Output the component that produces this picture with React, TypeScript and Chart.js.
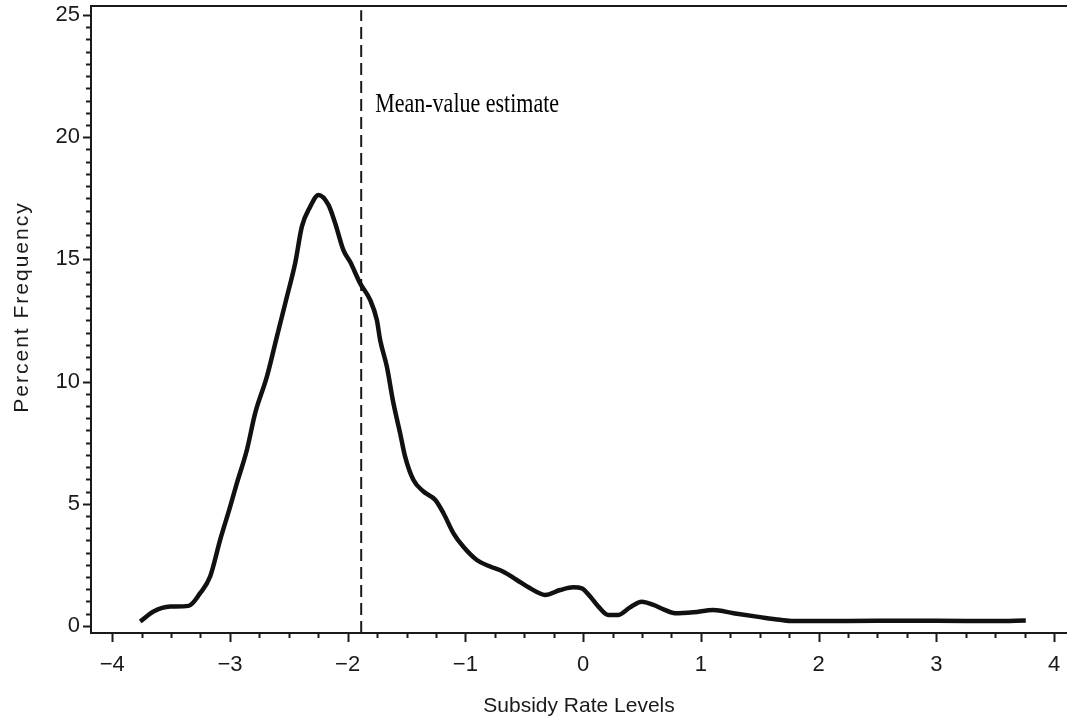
import React, { useEffect, useRef } from "react";
import { Chart, registerables } from "chart.js";

Chart.register(...registerables);

// Density curve
const densityX = [
  -3.762, -3.649, -3.507, -3.352, -3.253, -3.168, -3.083, -2.998, -2.941, -2.856,
  -2.786, -2.686, -2.601, -2.516, -2.446, -2.389, -2.318, -2.248, -2.163, -2.106,
  -2.036, -1.979, -1.894, -1.809, -1.752, -1.724, -1.667, -1.611, -1.554, -1.512,
  -1.441, -1.356, -1.257, -1.186, -1.101, -1.017, -0.903, -0.79, -0.677, -0.563,
  -0.45, -0.323, -0.195, -0.082, -0.011, 0.06, 0.13, 0.215, 0.3, 0.399,
  0.498, 0.597, 0.682, 0.781, 0.937, 1.107, 1.277, 1.503, 1.673, 1.786,
  2.0, 2.5, 3.0, 3.5, 3.76,
];
const densityY = [
  0.18, 0.59, 0.79, 0.82, 1.34, 2.02, 3.52, 4.88, 5.84, 7.2,
  8.7, 10.2, 11.84, 13.47, 14.84, 16.34, 17.16, 17.64, 17.23, 16.48,
  15.38, 14.9, 14.02, 13.34, 12.52, 11.7, 10.61, 9.11, 7.88, 6.93,
  5.97, 5.5, 5.16, 4.61, 3.79, 3.24, 2.7, 2.43, 2.22, 1.88,
  1.54, 1.27, 1.47, 1.58, 1.54, 1.2, 0.79, 0.45, 0.45, 0.76,
  0.99, 0.86, 0.68, 0.52, 0.56, 0.65, 0.52, 0.36, 0.25, 0.2,
  0.2, 0.21, 0.21, 0.2, 0.22,
];

const meanEstimate = -1.885;
const annotationText = "Mean-value estimate";

const xTickValues = [-4, -3, -2, -1, 0, 1, 2, 3, 4];
const yTickValues = [0, 5, 10, 15, 20, 25];
const xMinorStep = 0.25;
const yMinorStep = 0.5;

const X_MIN = -4.18;
const X_MAX = 4.11;
const Y_MIN = -0.29;
const Y_MAX = 25.37;

const xTitle = "Subsidy Rate Levels";
const yTitle = "Percent Frequency";

const INK = "#1a1a1a";
const SANS = "'Liberation Sans', Arial, sans-serif";
const TICK_FONT = { family: SANS, size: 22 };

const fmt = (v: number) => (v < 0 ? "\u2212" + Math.abs(v) : String(v));

const decorPlugin = {
  id: "decor",
  afterDraw(chart: any) {
    const { ctx, chartArea, scales } = chart;
    const xs = scales.x;
    const ys = scales.y;
    ctx.save();
    ctx.strokeStyle = INK;
    ctx.lineWidth = 2;
    // top frame line
    ctx.beginPath();
    ctx.moveTo(chartArea.left, chartArea.top);
    ctx.lineTo(chartArea.right, chartArea.top);
    ctx.stroke();
    // y tick marks
    for (let v = 0; v <= 25 + 1e-9; v += yMinorStep) {
      const major = Math.abs(v / 5 - Math.round(v / 5)) < 1e-9;
      const py = Math.round(ys.getPixelForValue(v)) + 0.5;
      ctx.beginPath();
      ctx.moveTo(chartArea.left, py);
      ctx.lineTo(chartArea.left - (major ? 8 : 5), py);
      ctx.stroke();
    }
    // x tick marks
    for (let v = -4; v <= 4 + 1e-9; v += xMinorStep) {
      const major = Math.abs(v - Math.round(v)) < 1e-9;
      const px = Math.round(xs.getPixelForValue(v)) + 0.5;
      ctx.beginPath();
      ctx.moveTo(px, chartArea.bottom);
      ctx.lineTo(px, chartArea.bottom + (major ? 9 : 5));
      ctx.stroke();
    }
    // y axis title
    ctx.save();
    ctx.fillStyle = INK;
    ctx.font = "21px " + SANS;
    (ctx as any).letterSpacing = "2px";
    ctx.textAlign = "center";
    ctx.textBaseline = "middle";
    ctx.translate(22, 307);
    ctx.rotate(-Math.PI / 2);
    ctx.fillText(yTitle, 0, 0);
    ctx.restore();
    // annotation
    ctx.save();
    ctx.fillStyle = "#000";
    ctx.font = "22px 'Liberation Serif', 'Times New Roman', serif";
    ctx.textBaseline = "alphabetic";
    ctx.textAlign = "left";
    ctx.translate(xs.getPixelForValue(meanEstimate) + 14, ys.getPixelForValue(21.03));
    ctx.scale(1, 1.22);
    ctx.fillText(annotationText, 0, 0);
    ctx.restore();
    ctx.restore();
  },
};

export default function App() {
  const canvasRef = useRef<HTMLCanvasElement | null>(null);

  useEffect(() => {
    const canvas = canvasRef.current;
    if (!canvas) return;
    const chart = new Chart(canvas, {
      type: "scatter",
      data: {
        datasets: [
          {
            label: "density",
            data: densityX.map((x, i) => ({ x, y: densityY[i] })),
            showLine: true,
            borderColor: "#111",
            borderWidth: 4.5,
            pointRadius: 0,
            cubicInterpolationMode: "monotone",
          },
          {
            label: "mean",
            data: [
              { x: meanEstimate, y: Y_MIN },
              { x: meanEstimate, y: 25.2 },
            ],
            showLine: true,
            borderColor: INK,
            borderWidth: 2,
            borderDash: [12, 6],
            pointRadius: 0,
          },
        ],
      },
      options: {
        responsive: false,
        animation: false,
        devicePixelRatio: 1,
        layout: { padding: { top: 6, right: 0, left: 0, bottom: 0 } },
        plugins: {
          legend: { display: false },
          tooltip: { enabled: false },
        },
        scales: {
          x: {
            type: "linear",
            min: X_MIN,
            max: X_MAX,
            afterBuildTicks: (scale: any) => {
              scale.ticks = xTickValues.map((v) => ({ value: v }));
            },
            afterFit: (scale: any) => {
              scale.height = 90;
              scale.paddingLeft = 0;
              scale.paddingRight = 0;
            },
            grid: { display: false, drawTicks: false },
            border: { display: true, color: INK, width: 2 },
            ticks: {
              padding: 19,
              maxRotation: 0,
              autoSkip: false,
              color: INK,
              font: TICK_FONT,
              callback: (v: any) => fmt(Number(v)),
            },
            title: {
              display: true,
              text: xTitle,
              color: INK,
              font: { family: SANS, size: 21 },
              padding: { top: 0, bottom: 4 },
            },
          },
          y: {
            type: "linear",
            min: Y_MIN,
            max: Y_MAX,
            afterBuildTicks: (scale: any) => {
              scale.ticks = yTickValues.map((v) => ({ value: v }));
            },
            afterFit: (scale: any) => {
              scale.width = 91;
              scale.paddingTop = 0;
              scale.paddingBottom = 0;
            },
            grid: { display: false, drawTicks: false },
            border: { display: true, color: INK, width: 2 },
            ticks: {
              padding: 11,
              autoSkip: false,
              color: INK,
              font: TICK_FONT,
              callback: (v: any) => fmt(Number(v)),
            },
            title: { display: false },
          },
        },
      },
      plugins: [decorPlugin],
    } as any);
    return () => chart.destroy();
  }, []);

  return (
    <div style={{ position: "absolute", left: 0, top: 0, width: 1067, height: 723, background: "#fff" }}>
      <canvas ref={canvasRef} width={1067} height={723} style={{ display: "block" }} />
    </div>
  );
}
